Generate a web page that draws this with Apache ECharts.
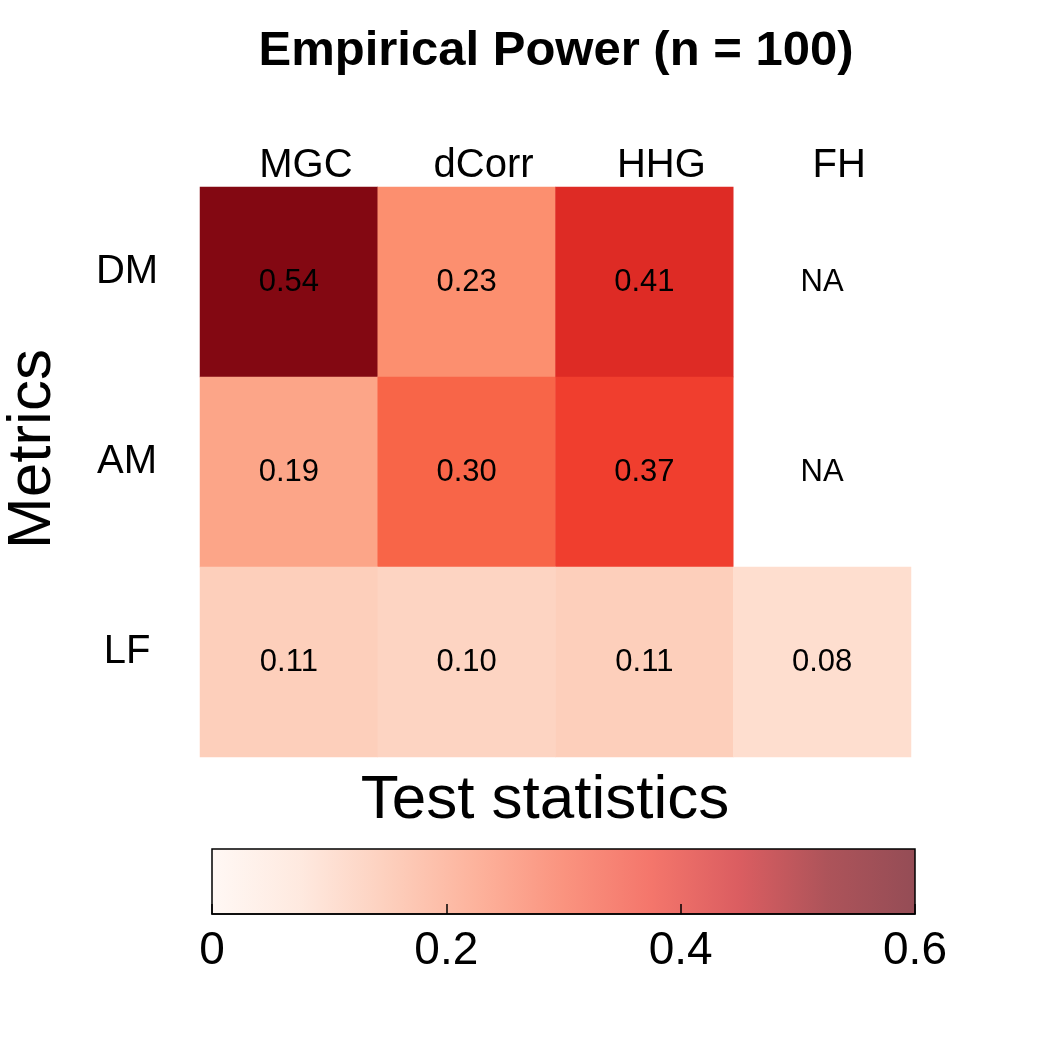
<!DOCTYPE html>
<html><head><meta charset="utf-8">
<script src="https://cdn.jsdelivr.net/npm/echarts@6/dist/echarts.min.js"></script>
<style>html,body{margin:0;padding:0;background:#fff}#main{width:1050px;height:1050px}</style>
</head><body><div id="main"></div>
<script>
const tests = ['MGC', 'dCorr', 'HHG', 'FH'];
const metrics = ['DM', 'AM', 'LF'];
const powerDM = [0.54, 0.23, 0.41, null];
const powerAM = [0.19, 0.30, 0.37, null];
const powerLF = [0.11, 0.10, 0.11, 0.08];
const colorbarTicks = [0, 0.2, 0.4, 0.6];
const powerRows = [powerDM, powerAM, powerLF];

const heatData = [], naData = [];
powerRows.forEach((row, yi) => row.forEach((v, xi) => {
  if (v === null) naData.push([xi, yi]); else heatData.push([xi, yi, v]);
}));
const cbMin = colorbarTicks[0], cbMax = colorbarTicks[colorbarTicks.length - 1];

const reds = ['#fff5f0','#fee0d2','#fcbba1','#fc9272','#f86548','#ef3b2c','#cb181d','#8a0a13','#67000d'];
const FONT = 'Liberation Sans, Arial, sans-serif';

const chart = echarts.init(document.getElementById('main'));
const option = {
  backgroundColor: '#fff',
  animation: false,
  textStyle: { fontFamily: FONT },
  grid: [
    { left: 200, top: 187, width: 711, height: 570 },
    { left: 212, top: 849, width: 703, height: 65 }
  ],
  xAxis: [
    { type: 'category', data: tests, gridIndex: 0, position: 'top',
      axisLine: { show: false }, axisTick: { show: false }, splitLine: { show: false },
      axisLabel: { fontSize: 40, color: '#000', fontFamily: FONT, margin: 1, padding: [0, 0, 0, 34] } },
    { type: 'value', gridIndex: 1, min: cbMin, max: cbMax, interval: 0.2, z: 10,
      axisLine: { show: true, lineStyle: { color: '#000', width: 1.5 } },
      axisTick: { show: true, inside: true, length: 10, lineStyle: { color: '#000', width: 1.5 } },
      splitLine: { show: false },
      axisLabel: { fontSize: 46, color: '#000', fontFamily: FONT, margin: 14,
        formatter: v => (v === 0 ? '0' : String(+v.toFixed(1))) } }
  ],
  yAxis: [
    { type: 'category', data: metrics, gridIndex: 0, inverse: true,
      axisLine: { show: false }, axisTick: { show: false }, splitLine: { show: false },
      axisLabel: { fontSize: 40, color: '#000', fontFamily: FONT, margin: 73, align: 'center',
        verticalAlign: 'bottom', lineHeight: 20 } },
    { type: 'value', gridIndex: 1, min: 0, max: 1, show: false }
  ],
  visualMap: {
    type: 'continuous', show: false, min: cbMin, max: cbMax, seriesIndex: 0, dimension: 2,
    inRange: { color: reds }
  },
  graphic: [
    { type: 'text', x: 556, y: 51, style: { text: 'Empirical Power (n = 100)', font: 'bold 49px ' + FONT, fill: '#000', align: 'center', verticalAlign: 'middle', textAlign: 'center', textVerticalAlign: 'middle' } },
    { type: 'text', x: 545, y: 801, style: { text: 'Test statistics', font: '62px ' + FONT, fill: '#000', align: 'center', verticalAlign: 'middle', textAlign: 'center', textVerticalAlign: 'middle' } },
    { type: 'text', x: 33, y: 449, rotation: Math.PI / 2, style: { text: 'Metrics', font: '62px ' + FONT, fill: '#000', align: 'center', verticalAlign: 'middle', textAlign: 'center', textVerticalAlign: 'middle' } }
  ],
  series: [
    { type: 'heatmap', xAxisIndex: 0, yAxisIndex: 0, data: heatData,
      itemStyle: { borderWidth: 0 },
      label: { show: true, fontSize: 31, color: '#000', fontFamily: FONT, formatter: p => p.value[2].toFixed(2) },
      emphasis: { disabled: true } },
    { type: 'scatter', xAxisIndex: 0, yAxisIndex: 0, data: naData, symbolSize: 0,
      itemStyle: { opacity: 1 },
      label: { show: true, position: 'inside', fontSize: 31, color: '#000', opacity: 1, fontFamily: FONT, formatter: 'NA' },
      emphasis: { disabled: true } },
    { type: 'custom', xAxisIndex: 1, yAxisIndex: 1, data: [[cbMin, cbMax]],
      renderItem: (params, api) => {
        const p0 = api.coord([api.value(0), 0]);
        const p1 = api.coord([api.value(1), 1]);
        const shape = { x: p0[0], y: p1[1], width: p1[0] - p0[0], height: p0[1] - p1[1] };
        const grad = new echarts.graphic.LinearGradient(0, 0, 1, 0,
          reds.map((c, i) => ({ offset: i / (reds.length - 1), color: c })));
        return { type: 'group', children: [
          { type: 'rect', shape, style: { fill: grad, opacity: 0.7 } },
          { type: 'rect', shape, style: { fill: 'none', stroke: '#000', lineWidth: 1.5 } }
        ] };
      } }
  ]
};
chart.setOption(option);
</script></body></html>
